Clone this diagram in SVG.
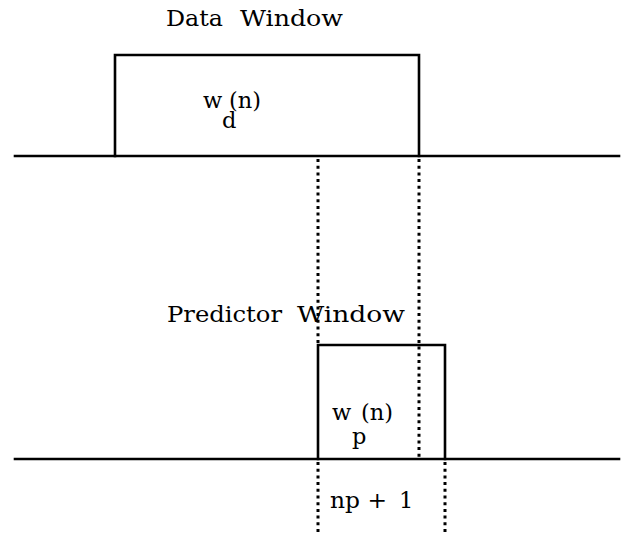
<svg xmlns="http://www.w3.org/2000/svg" width="626" height="534" viewBox="0 0 626 534">
<style>
.solid{fill:none;stroke:#000;stroke-width:2.6;stroke-linecap:square}
.dot{fill:none;stroke:#000;stroke-width:3;stroke-dasharray:3 3.7}
.t{font-family:"DejaVu Serif","Liberation Serif",serif;font-size:22.5px;fill:#000}
</style>
<rect width="626" height="534" fill="#fff"/>
<g id="axes">
<line class="solid" x1="15" y1="156" x2="619" y2="156"/>
<line class="solid" x1="15" y1="459" x2="619" y2="459"/>
</g>
<g id="data-window">
<polyline class="solid" points="115,156 115,55 419,55 419,156"/>
<text class="t" x="166" y="26" textLength="57" lengthAdjust="spacingAndGlyphs">Data</text>
<text class="t" x="240" y="26" textLength="103" lengthAdjust="spacingAndGlyphs">Window</text>
<text class="t"><tspan x="203" y="108">w</tspan><tspan x="229" y="108">(n)</tspan><tspan x="222" y="128">d</tspan></text>
</g>
<g id="predictor-window">
<polyline class="solid" points="318,459 318,345 445,345 445,459"/>
<text class="t" x="167" y="322" textLength="115" lengthAdjust="spacingAndGlyphs">Predictor</text>
<text class="t" x="297" y="322" textLength="108" lengthAdjust="spacingAndGlyphs">Window</text>
<text class="t"><tspan x="332" y="420">w</tspan><tspan x="361" y="420">(n)</tspan><tspan x="352" y="444">p</tspan></text>
<text class="t" x="330" y="508" textLength="57" lengthAdjust="spacingAndGlyphs">np +</text>
<text class="t" x="399" y="508">1</text>
</g>
<g id="connectors">
<line class="dot" x1="318" y1="159" x2="318" y2="345"/>
<line class="dot" x1="318" y1="462" x2="318" y2="534"/>
<line class="dot" x1="419" y1="159" x2="419" y2="457"/>
<line class="dot" x1="445" y1="462" x2="445" y2="534"/>
</g>
</svg>
